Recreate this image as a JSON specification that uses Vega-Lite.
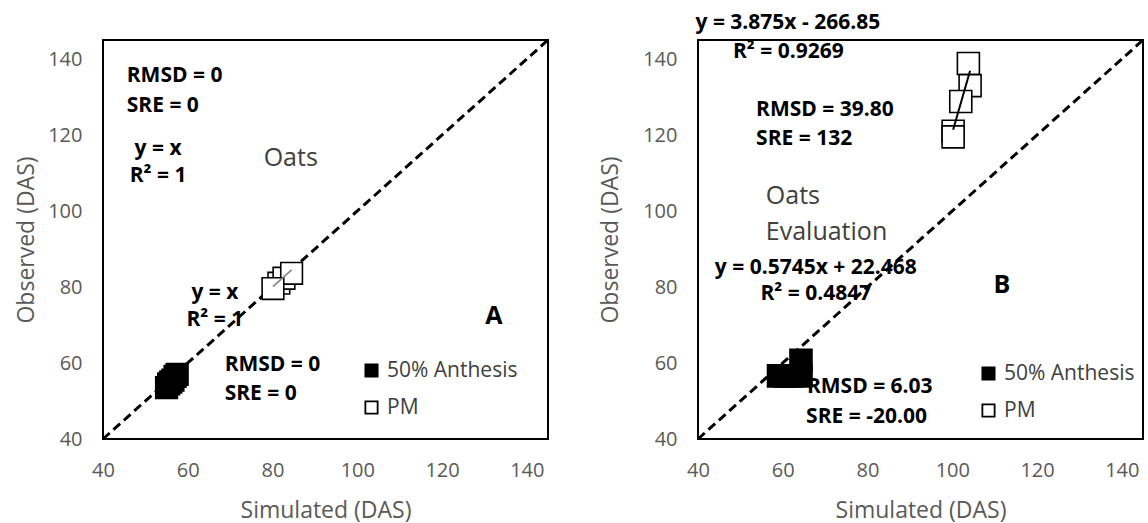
{
  "$schema": "https://vega.github.io/schema/vega-lite/v6.json",
  "padding": {"left": 14, "top": 10, "right": 4, "bottom": 4},
  "datasets": {
    "diag": [{"x": 40, "y": 40, "x2": 145, "y2": 145}],
    "ptsA": [
      {"x": 55, "y": 53.5, "stage": "50% Anthesis"},
      {"x": 55.5, "y": 54.5, "stage": "50% Anthesis"},
      {"x": 56, "y": 55, "stage": "50% Anthesis"},
      {"x": 56.5, "y": 55.5, "stage": "50% Anthesis"},
      {"x": 57, "y": 56.5, "stage": "50% Anthesis"},
      {"x": 57.5, "y": 57, "stage": "50% Anthesis"},
      {"x": 81.5, "y": 81, "stage": "PM"},
      {"x": 82.7, "y": 82.3, "stage": "PM"},
      {"x": 84.5, "y": 83.6, "stage": "PM"},
      {"x": 80.1, "y": 79.6, "stage": "PM"}
    ],
    "trendA": [{"x": 80.1, "y": 80.1, "x2": 84.5, "y2": 84.5}],
    "textA_left": [
      {"x": 45.6, "y": 135.5, "t": "RMSD = 0"},
      {"x": 45.6, "y": 127.7, "t": "SRE = 0"},
      {"x": 68.7, "y": 59.5, "t": "RMSD = 0"},
      {"x": 68.7, "y": 51.8, "t": "SRE = 0"}
    ],
    "textA_center": [
      {"x": 53, "y": 116.2, "t": "y = x"},
      {"x": 53, "y": 109.1, "t": "R² = 1"},
      {"x": 66.4, "y": 78.4, "t": "y = x"},
      {"x": 66.4, "y": 71.2, "t": "R² = 1"}
    ],
    "textA_name": [{"x": 84.3, "y": 114, "t": "Oats"}],
    "textA_panel": [{"x": 132.2, "y": 72.5, "t": "A"}],
    "ptsB": [
      {"x": 59, "y": 56.6, "stage": "50% Anthesis"},
      {"x": 60.5, "y": 56.6, "stage": "50% Anthesis"},
      {"x": 62, "y": 56.6, "stage": "50% Anthesis"},
      {"x": 64.3, "y": 56.6, "stage": "50% Anthesis"},
      {"x": 64.3, "y": 60.7, "stage": "50% Anthesis"},
      {"x": 103.8, "y": 138.8, "stage": "PM"},
      {"x": 104.2, "y": 133, "stage": "PM"},
      {"x": 102, "y": 128.8, "stage": "PM"},
      {"x": 100.2, "y": 121, "stage": "PM"},
      {"x": 100.2, "y": 119.5, "stage": "PM"}
    ],
    "trendB": [{"x": 100.2, "y": 121.4, "x2": 104.2, "y2": 136.9}],
    "textB_left": [
      {"x": 53.7, "y": 126.6, "t": "RMSD = 39.80"},
      {"x": 53.7, "y": 118.9, "t": "SRE = 132"},
      {"x": 65.7, "y": 53.7, "t": "RMSD = 6.03"},
      {"x": 65.5, "y": 45.9, "t": "SRE = -20.00"}
    ],
    "textB_center": [
      {"x": 61.2, "y": 149.6, "t": "y = 3.875x - 266.85"},
      {"x": 61.3, "y": 141.8, "t": "R² = 0.9269"},
      {"x": 67.8, "y": 85.1, "t": "y = 0.5745x + 22.468"},
      {"x": 67.8, "y": 78.2, "t": "R² = 0.4847"}
    ],
    "textB_name": [
      {"x": 56, "y": 104, "t": "Oats"},
      {"x": 56, "y": 94.4, "t": "Evaluation"}
    ],
    "textB_panel": [{"x": 111.7, "y": 80.5, "t": "B"}]
  },
  "hconcat": [
    {
      "width": 445,
      "height": 399,
      "encoding": {
        "x": {"field": "x", "type": "quantitative", "scale": {"domain": [40, 145], "nice": false, "zero": false}, "axis": {"values": [40, 60, 80, 100, 120, 140], "title": "Simulated (DAS)"}},
        "y": {"field": "y", "type": "quantitative", "scale": {"domain": [40, 145], "nice": false, "zero": false}, "axis": {"values": [40, 60, 80, 100, 120, 140], "title": "Observed (DAS)", "titlePadding": 9}}
      },
      "layer": [
        {"data": {"name": "textA_left"}, "mark": {"type": "text", "align": "left", "baseline": "middle", "fontSize": 21, "fontWeight": "bold", "color": "black"}, "encoding": {"text": {"field": "t"}}},
        {"data": {"name": "textA_center"}, "mark": {"type": "text", "align": "center", "baseline": "middle", "fontSize": 21, "fontWeight": "bold", "color": "black"}, "encoding": {"text": {"field": "t"}}},
        {"data": {"name": "textA_name"}, "mark": {"type": "text", "align": "center", "baseline": "middle", "fontSize": 25, "color": "#404040"}, "encoding": {"text": {"field": "t"}}},
        {"data": {"name": "textA_panel"}, "mark": {"type": "text", "align": "center", "baseline": "middle", "fontSize": 25, "fontWeight": "bold", "color": "black"}, "encoding": {"text": {"field": "t"}}},
        {"data": {"name": "diag"}, "mark": {"type": "rule", "strokeDash": [9, 5], "strokeWidth": 3, "color": "black"}, "encoding": {"x2": {"field": "x2"}, "y2": {"field": "y2"}}},
        {"data": {"name": "ptsA"}, "mark": {"type": "point", "shape": "square", "filled": true, "size": 470, "stroke": "black", "strokeWidth": 1.6, "opacity": 1},
          "encoding": {"fill": {"field": "stage", "type": "nominal", "scale": {"domain": ["50% Anthesis", "PM"], "range": ["black", "white"]},
            "legend": {"orient": "none", "legendX": 258, "legendY": 320, "title": null, "symbolType": "square", "symbolSize": 150, "symbolStrokeColor": "black", "symbolStrokeWidth": 1.8, "symbolOpacity": 1, "labelFontSize": 21, "labelColor": "#404040", "rowPadding": 15, "labelOffset": 5, "padding": 0}}}},
        {"data": {"name": "trendA"}, "mark": {"type": "rule", "strokeWidth": 1.5, "color": "#808080"}, "encoding": {"x2": {"field": "x2"}, "y2": {"field": "y2"}}}
      ]
    },
    {
      "width": 445,
      "height": 399,
      "encoding": {
        "x": {"field": "x", "type": "quantitative", "scale": {"domain": [40, 145], "nice": false, "zero": false}, "axis": {"values": [40, 60, 80, 100, 120, 140], "title": "Simulated (DAS)"}},
        "y": {"field": "y", "type": "quantitative", "scale": {"domain": [40, 145], "nice": false, "zero": false}, "axis": {"values": [40, 60, 80, 100, 120, 140], "title": "Observed (DAS)", "titlePadding": 20}}
      },
      "layer": [
        {"data": {"name": "textB_left"}, "mark": {"type": "text", "align": "left", "baseline": "middle", "fontSize": 21, "fontWeight": "bold", "color": "black"}, "encoding": {"text": {"field": "t"}}},
        {"data": {"name": "textB_center"}, "mark": {"type": "text", "align": "center", "baseline": "middle", "fontSize": 21, "fontWeight": "bold", "color": "black"}, "encoding": {"text": {"field": "t"}}},
        {"data": {"name": "textB_name"}, "mark": {"type": "text", "align": "left", "baseline": "middle", "fontSize": 25, "color": "#404040"}, "encoding": {"text": {"field": "t"}}},
        {"data": {"name": "textB_panel"}, "mark": {"type": "text", "align": "center", "baseline": "middle", "fontSize": 25, "fontWeight": "bold", "color": "black"}, "encoding": {"text": {"field": "t"}}},
        {"data": {"name": "diag"}, "mark": {"type": "rule", "strokeDash": [9, 5], "strokeWidth": 3, "color": "black"}, "encoding": {"x2": {"field": "x2"}, "y2": {"field": "y2"}}},
        {"data": {"name": "ptsB"}, "mark": {"type": "point", "shape": "square", "filled": true, "size": 484, "stroke": "black", "strokeWidth": 1.6, "opacity": 1},
          "encoding": {"fill": {"field": "stage", "type": "nominal", "scale": {"domain": ["50% Anthesis", "PM"], "range": ["black", "white"]},
            "legend": {"orient": "none", "legendX": 280, "legendY": 323, "title": null, "symbolType": "square", "symbolSize": 150, "symbolStrokeColor": "black", "symbolStrokeWidth": 1.8, "symbolOpacity": 1, "labelFontSize": 21, "labelColor": "#404040", "rowPadding": 15, "labelOffset": 5, "padding": 0}}}},
        {"data": {"name": "trendB"}, "mark": {"type": "rule", "strokeWidth": 2, "color": "black"}, "encoding": {"x2": {"field": "x2"}, "y2": {"field": "y2"}}}
      ]
    }
  ],
  "spacing": 150,
  "bounds": "flush",
  "resolve": {"scale": {"fill": "independent"}, "legend": {"fill": "independent"}},
  "config": {
    "font": "Open Sans",
    "view": {"stroke": "black", "strokeWidth": 2},
    "axis": {"grid": false, "ticks": false, "domain": false, "labelFlush": false, "labelOverlap": false, "labelFontSize": 20, "labelColor": "#595959", "titleFontSize": 23, "titleColor": "#595959", "titleFontWeight": "normal"},
    "axisX": {"labelPadding": 21, "titlePadding": 19},
    "axisY": {"labelPadding": 21}
  }
}
